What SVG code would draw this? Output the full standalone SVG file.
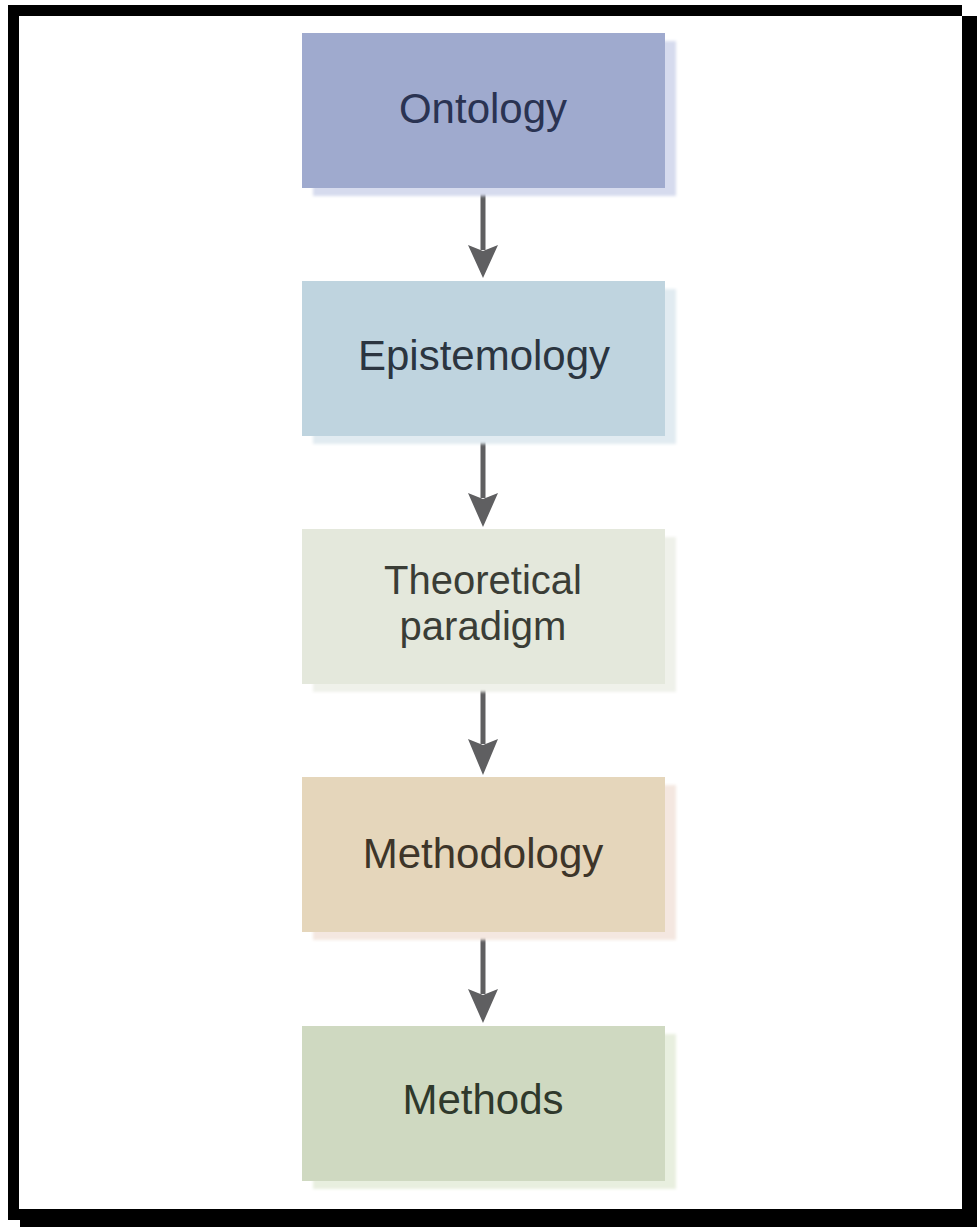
<svg xmlns="http://www.w3.org/2000/svg" width="977" height="1227" viewBox="0 0 977 1227">
  <defs>
    <style>
      .box { stroke: none; }
      .shade { stroke: none; }
      .label { font-family: "Liberation Sans", Arial, sans-serif; font-size: 42px; text-anchor: middle; }
      .label.two { font-size: 40px; }
      .link { stroke: #5f5f61; stroke-width: 5; fill: none; }
      .head { fill: #5f5f61; stroke: none; }
    </style>
    <filter id="soft" x="-5%" y="-5%" width="110%" height="110%">
      <feGaussianBlur stdDeviation="1.5"/>
    </filter>
  </defs>

  <!-- page frame with drop shadow -->
  <rect x="20" y="16" width="957" height="1211" fill="#000"/>
  <rect x="8" y="5" width="954" height="1215" fill="#000"/>
  <rect x="19" y="16" width="943" height="1193" fill="#fff"/>

  <!-- connectors -->
  <g id="connectors">
    <line class="link" x1="483" y1="188" x2="483" y2="250"/>
    <polygon class="head" points="468,245 483,251 498,245 483,278"/>
    <line class="link" x1="483" y1="436" x2="483" y2="498"/>
    <polygon class="head" points="468,493 483,499 498,493 483,527"/>
    <line class="link" x1="483" y1="684" x2="483" y2="744"/>
    <polygon class="head" points="468,739 483,745 498,739 483,775"/>
    <line class="link" x1="483" y1="932" x2="483" y2="994"/>
    <polygon class="head" points="468,989 483,995 498,989 483,1023"/>
  </g>

  <g id="ontology">
    <rect class="shade" x="313" y="41" width="363" height="155" fill="#d6dbee" filter="url(#soft)"/>
    <rect class="box" x="302" y="33" width="363" height="155" fill="#9faace"/>
    <text class="label" x="483" y="123" fill="#2a3352">Ontology</text>
  </g>

  <g id="epistemology">
    <rect class="shade" x="313" y="289" width="363" height="155" fill="#e1ebf1" filter="url(#soft)"/>
    <rect class="box" x="302" y="281" width="363" height="155" fill="#bfd4df"/>
    <text class="label" x="484" y="370" fill="#2b3540">Epistemology</text>
  </g>

  <g id="theoretical-paradigm">
    <rect class="shade" x="313" y="537" width="363" height="155" fill="#eff1ea" filter="url(#soft)"/>
    <rect class="box" x="302" y="529" width="363" height="155" fill="#e4e8dc"/>
    <text class="label two" x="483" y="594" fill="#3a3d36">Theoretical</text>
    <text class="label two" x="483" y="640" fill="#3a3d36">paradigm</text>
  </g>

  <g id="methodology">
    <rect class="shade" x="313" y="785" width="363" height="155" fill="#f4e7e0" filter="url(#soft)"/>
    <rect class="box" x="302" y="777" width="363" height="155" fill="#e5d6bb"/>
    <text class="label" x="483" y="868" fill="#3d3529">Methodology</text>
  </g>

  <g id="methods">
    <rect class="shade" x="313" y="1034" width="363" height="155" fill="#e8efdf" filter="url(#soft)"/>
    <rect class="box" x="302" y="1026" width="363" height="155" fill="#cfd9c1"/>
    <text class="label" x="483" y="1114" fill="#2f392c">Methods</text>
  </g>
</svg>
